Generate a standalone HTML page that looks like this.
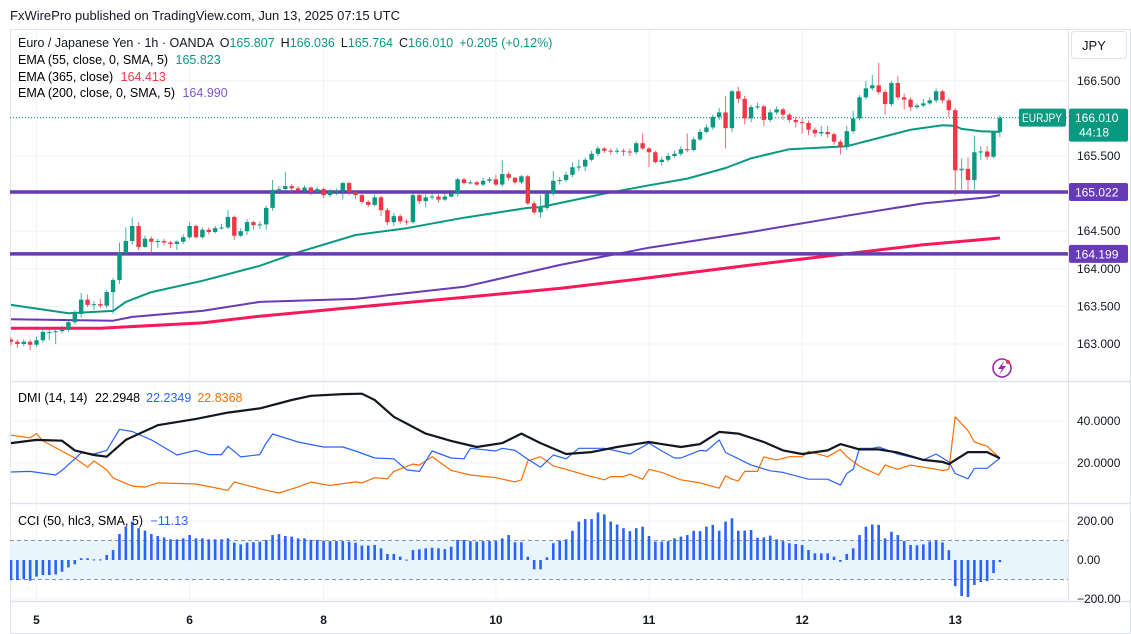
<!DOCTYPE html>
<html><head><meta charset="utf-8">
<style>
html,body{margin:0;padding:0;background:#fff;}
body{width:1131px;height:634px;overflow:hidden;position:relative;font-family:"Liberation Sans",sans-serif;color:#131722;}
svg{position:absolute;left:0;top:0;}
</style></head>
<body>
<svg id="chart" width="1131" height="634" viewBox="0 0 1131 634" xmlns="http://www.w3.org/2000/svg" font-family="Liberation Sans, sans-serif">
  <text x="10" y="20" font-size="13" fill="#131722">FxWirePro published on TradingView.com, Jun 13, 2025 07:15 UTC</text>
  <rect x="10.5" y="29.5" width="1120" height="604" fill="none" stroke="#e0e3eb"/>
  <g id="grid"></g>
  <g id="clipdefs"></g>
  <g id="main"></g>
  <g id="dmi"></g>
  <g id="cci"></g>
  <g id="axes"></g>
  <g font-size="12.5">
    <text x="18" y="47" fill="#131722">Euro / Japanese Yen · 1h · OANDA <tspan dx="3">O</tspan><tspan fill="#089981">165.807</tspan><tspan dx="6">H</tspan><tspan fill="#089981">166.036</tspan><tspan dx="6">L</tspan><tspan fill="#089981">165.764</tspan><tspan dx="6">C</tspan><tspan fill="#089981">166.010</tspan><tspan dx="6" fill="#089981">+0.205 (+0.12%)</tspan></text>
    <text x="18" y="64">EMA (55, close, 0, SMA, 5) <tspan dx="4" fill="#089981">165.823</tspan></text>
    <text x="18" y="81">EMA (365, close) <tspan dx="4" fill="#f23645">164.413</tspan></text>
    <text x="18" y="97">EMA (200, close, 0, SMA, 5) <tspan dx="4" fill="#7e57c2">164.990</tspan></text>
    <text x="18" y="402">DMI (14, 14) <tspan dx="4">22.2948</tspan><tspan dx="6" fill="#2962ff">22.2349</tspan><tspan dx="6" fill="#ff6d00">22.8368</tspan></text>
    <text x="18" y="525">CCI (50, hlc3, SMA, 5) <tspan dx="4" fill="#2962ff">−11.13</tspan></text>
  </g>
  <g>
    <rect x="1071.5" y="31.5" width="55" height="27" rx="3" fill="#fff" stroke="#e0e3eb"/>
    <text x="1082" y="50" font-size="13" fill="#131722">JPY</text>
  </g>
  <g>
    <circle cx="1002" cy="368" r="9" fill="none" stroke="#9c27b0" stroke-width="1.6"/>
    <path d="M1004 361 L998 369 L1002 369 L999 375 L1006 366 L1002 366 Z" fill="#9c27b0"/>
    <circle cx="1008" cy="362" r="2" fill="#f23645"/>
  </g>
</svg>
<script>
// ---- data ----
const open0 = 163.06;
const closes = [163.03,163.00,163.03,162.99,163.05,163.16,163.16,163.17,163.19,163.29,
163.40,163.59,163.52,163.53,163.51,163.69,163.85,164.21,164.37,164.57,
164.29,164.40,164.36,164.37,164.35,164.33,164.36,164.42,164.57,164.42,
164.52,164.49,164.54,164.55,164.69,164.44,164.50,164.62,164.58,164.59,
164.81,165.05,165.06,165.10,165.07,165.04,165.08,165.02,165.06,164.98,
165.03,165.03,165.14,165.02,164.98,164.89,164.85,164.95,164.78,164.62,
164.70,164.63,164.62,164.98,164.90,164.95,164.96,164.92,164.96,165.00,
165.19,165.14,165.15,165.12,165.17,165.19,165.12,165.26,165.21,165.15,
165.23,164.87,164.75,164.81,165.00,165.17,165.18,165.25,165.35,165.36,
165.45,165.53,165.60,165.57,165.56,165.57,165.56,165.55,165.67,165.60,
165.55,165.42,165.45,165.50,165.53,165.59,165.58,165.72,165.82,165.88,
166.02,166.08,165.87,166.36,166.26,166.00,166.15,166.16,165.98,166.08,
166.12,166.05,165.98,165.95,165.94,165.85,165.80,165.82,165.79,165.69,
165.62,165.83,166.00,166.28,166.40,166.44,166.35,166.19,166.47,166.28,
166.25,166.15,166.17,166.20,166.24,166.36,166.24,166.11,165.31,165.33,
165.18,165.55,165.56,165.49,165.82,166.01];
const highs = [163.09,163.06,163.06,163.06,163.10,163.22,163.20,163.21,163.24,163.32,
163.45,163.68,163.66,163.57,163.60,163.72,163.88,164.35,164.55,164.68,
164.62,164.44,164.43,164.40,164.40,164.37,164.38,164.46,164.62,164.59,
164.55,164.55,164.57,164.60,164.78,164.71,164.54,164.66,164.64,164.63,
164.84,165.18,165.10,165.29,165.13,165.10,165.11,165.10,165.09,165.08,
165.06,165.07,165.16,165.16,165.04,165.00,164.91,164.99,164.97,164.81,
164.74,164.73,164.66,165.00,165.00,164.99,165.00,164.99,165.00,165.02,
165.21,165.21,165.18,165.17,165.21,165.22,165.25,165.45,165.29,165.22,
165.25,165.25,164.90,164.98,165.05,165.30,165.22,165.29,165.41,165.45,
165.48,165.57,165.63,165.62,165.60,165.61,165.60,165.60,165.70,165.80,
165.62,165.57,165.49,165.54,165.57,165.63,165.80,165.75,165.86,165.92,
166.05,166.14,166.30,166.38,166.42,166.30,166.18,166.21,166.18,166.12,
166.16,166.14,166.07,166.02,166.00,165.97,165.88,165.90,165.90,165.81,
165.72,165.90,166.10,166.31,166.50,166.58,166.74,166.38,166.50,166.56,
166.33,166.28,166.20,166.26,166.28,166.40,166.38,166.27,166.14,165.47,
165.48,165.77,165.63,165.63,165.84,166.04];
const lows = [162.98,162.95,162.97,162.92,162.96,163.02,163.05,163.00,163.14,163.16,
163.26,163.35,163.49,163.45,163.48,163.48,163.40,163.80,164.18,164.32,
164.25,164.28,164.20,164.28,164.31,164.28,164.25,164.33,164.40,164.40,
164.40,164.46,164.47,164.52,164.53,164.38,164.42,164.45,164.52,164.53,
164.52,164.77,165.02,165.04,165.00,165.00,165.02,164.98,164.99,164.94,
164.95,164.98,164.92,164.98,164.93,164.86,164.82,164.83,164.70,164.58,
164.57,164.60,164.58,164.60,164.86,164.82,164.92,164.88,164.90,164.95,
164.96,165.12,165.12,165.10,165.10,165.14,165.10,165.09,165.17,165.12,
165.13,164.85,164.72,164.68,164.78,164.97,165.12,165.15,165.22,165.30,
165.30,165.43,165.50,165.54,165.52,165.53,165.50,165.50,165.52,165.58,
165.35,165.40,165.37,165.42,165.48,165.50,165.55,165.56,165.70,165.80,
165.85,165.98,165.60,165.82,166.20,165.92,165.95,166.12,165.90,165.95,
166.05,165.98,165.94,165.88,165.80,165.78,165.75,165.76,165.74,165.65,
165.52,165.58,165.80,165.97,166.25,166.37,166.32,166.05,166.16,166.25,
166.12,166.10,166.12,166.15,166.18,166.21,166.20,166.02,164.98,165.05,
165.05,165.05,165.45,165.45,165.47,165.75];
const ema55Idx = [0,9,16,18,22,30,39,45,54,62,71,81,83,93,100,106,112,116,122,131,136,141,146,148,149,152,155];
const ema55Val = [163.52,163.41,163.44,163.56,163.69,163.84,164.04,164.22,164.45,164.54,164.68,164.81,164.82,165.00,165.11,165.20,165.34,165.47,165.59,165.63,165.74,165.85,165.91,165.90,165.86,165.83,165.82];
const ema200Idx = [0,16,19,30,39,54,71,86,100,116,132,143,153,155];
const ema200Val = [163.33,163.31,163.36,163.44,163.56,163.60,163.76,164.05,164.28,164.49,164.72,164.87,164.95,164.98];
const ema365Idx = [0,14,30,39,54,71,86,100,116,132,143,155];
const ema365Val = [163.21,163.21,163.28,163.37,163.49,163.62,163.74,163.88,164.05,164.21,164.32,164.41];
const levels = [165.022,164.199];
const lastPrice = 166.010;
const priceTicks = [166.5,165.5,164.5,164.0,163.5,163.0];
const priceTickLabels = ["166.500","165.500","164.500","164.000","163.500","163.000"];
const adxIdx = [0,4,8,10,13,15,18,23,29,34,39,44,47,52,55,57,60,65,69,73,77,80,83,87,91,95,100,102,105,108,111,114,118,121,124,128,130,133,136,139,143,146,147,150,153,155];
const adxVal = [29.5,31,30.6,26,23.8,23,31,38,41,44,46,50,52,52.8,53,50,42,34,30.5,27.6,29.5,34,29.5,24.3,25.2,27.6,30,29,27.6,29,34.8,34,30,26,24.3,26,29,26.5,26.5,25,21.5,20.5,19.5,25.2,25.2,22.3];
const pdiIdx = [0,3,7,8,11,13,15,17,19,22,26,29,31,33,34,36,39,40,41,45,49,52,54,57,60,62,64,66,69,71,72,76,77,79,81,83,85,87,89,93,95,97,100,102,104,105,108,109,111,112,116,119,121,125,128,130,131,132,133,135,136,139,143,145,147,148,150,151,153,155];
const pdiVal = [15.7,16,14.3,16.5,24.8,24.3,26,36,35,31,23.8,26,24,24,28,22.9,24,29.5,33.8,30,27.6,27.6,25.7,22.4,22,16.7,16,25.7,22.4,22,27,25.7,27,26,21.8,18,23.8,22,27,27,25.7,24.3,29.5,25.7,22.4,22.4,26,25.7,31,25,19,16.3,15.5,12.3,12.3,9.5,15,17,27,27,27.6,24.3,21.5,24.3,20.5,15,12.5,17.5,17.5,22.3];
const mdiIdx = [0,3,4,5,10,12,13,15,16,19,21,23,29,34,35,40,42,45,47,50,54,55,57,59,60,63,64,66,69,72,76,79,80,81,83,85,87,90,92,93,94,96,97,99,100,102,105,108,111,112,113,114,115,117,118,120,122,124,125,128,130,131,133,134,136,137,139,141,143,146,147,148,150,151,153,155];
const mdiVal = [33.3,32,34,30.5,22.4,18,21,16.7,12.9,9,8.5,10.5,10,7,11,7,5.7,8.6,10.9,9.3,11,10.5,13,12.5,16,19.5,19,23,16.5,14.3,13,11,12,21,23,18.6,17,14.3,12.8,12,13.5,13.5,14.7,12.3,17,15.5,12,10.5,8,14,12.3,11.5,16,16,22.9,21.5,23,23,25.5,23,26.5,23,18.5,17,14.3,19,17,19,18,16.5,17,42,35.4,30,28,22.3];
const cciVals = [-103,-103,-99,-106,-85,-77,-77,-74,-60,-38,
-22,9,9,3,3,26,51,133,171,197,
163,151,133,123,116,106,106,111,128,111,
111,106,106,106,111,89,80,89,91,94,
103,128,133,123,120,111,111,103,103,99,
97,97,97,94,89,74,74,77,60,31,
31,17,2,51,55,60,63,60,56,68,
103,103,97,94,97,97,97,111,128,91,
91,17,-48,-48,14,86,99,106,150,197,
210,210,244,234,197,182,163,148,163,171,
123,94,94,97,111,120,128,150,148,171,
180,150,197,214,150,151,154,114,116,125,
106,97,86,82,77,51,34,34,34,17,
-9,31,60,128,171,182,180,111,145,128,
97,77,75,80,95,100,90,50,-134,-185,
-190,-128,-113,-108,-67,-11];
const dmiTicks = [40,20];
const dmiTickLabels = ["40.0000","20.0000"];
const cciTicks = [200,0,-200];
const cciTickLabels = ["200.00","0.00","−200.00"];
const dateLabels = ["5","6","8","10","11","12","13"];
const dateIdx = [4,28,49,76,100,124,148];

// ---- scales ----
const NS = "http://www.w3.org/2000/svg";
const PX0 = 11, STEP = 6.38, PR = 1068;
function xOf(i){ return PX0 + i*STEP; }
function yP(p){ return 156 - (p-165.5)*75.2; }
function yD(v){ return 463 - (v-20)*2.1; }
function yC(v){ return 560 - v*0.195; }
function mk(tag, attrs, parent){
  const e = document.createElementNS(NS, tag);
  for (const k in attrs) e.setAttribute(k, attrs[k]);
  parent.appendChild(e); return e;
}
const main = document.getElementById('main');
const dmi = document.getElementById('dmi');
const cci = document.getElementById('cci');
const axes = document.getElementById('axes');
const grid = document.getElementById('grid');

const defs = mk('defs', {}, document.getElementById('clipdefs'));
function clip(id,y0,y1){ const c = mk('clipPath',{id:id},defs); mk('rect',{x:10,y:y0,width:PR-10,height:y1-y0},c); }
clip('cMain',30,381); clip('cDmi',382,503); clip('cCci',504,601);
main.setAttribute('clip-path','url(#cMain)');
dmi.setAttribute('clip-path','url(#cDmi)');
cci.setAttribute('clip-path','url(#cCci)');

dateIdx.forEach(i=>{
  const l = mk('line',{x1:xOf(i),x2:xOf(i),y1:30,y2:601,stroke:'#f0f3fa','stroke-width':1},grid);
  
  
});
[166.5,166.0,165.5,165.0,164.5,164.0,163.5,163.0].forEach(p=>{
  const l = mk('line',{x1:10,x2:PR,y1:yP(p),y2:yP(p),stroke:'#f0f3fa'},grid);
  
  
});
[40,20].forEach(v=>{ const l=mk('line',{x1:10,x2:PR,y1:yD(v),y2:yD(v),stroke:'#f0f3fa'},grid);
  
   });
[200,-200].forEach(v=>{ const l=mk('line',{x1:10,x2:PR,y1:yC(v),y2:yC(v),stroke:'#f0f3fa'},grid);
  
   });

[381.5,503.5,601.5].forEach(y=>{ const l=mk('line',{x1:10,x2:1131,y1:y,y2:y,stroke:'#e0e3eb','stroke-width':1.5},axes);
  
   });
const ab = mk('line',{x1:PR+0.5,x2:PR+0.5,y1:30,y2:601,stroke:'#e0e3eb'},axes);



function polyline(idx, vals, yf, color, w, parent, name){
  const pts = idx.map((i,k)=> xOf(i).toFixed(1)+','+yf(vals[k]).toFixed(1)).join(' ');
  const pl = mk('polyline',{points:pts,fill:'none',stroke:color,'stroke-width':w,'stroke-linejoin':'round'},parent);
  
  
}
polyline(ema365Idx, ema365Val, yP, '#f7195a', 3, main, 'ema365-line');
polyline(ema200Idx, ema200Val, yP, '#673ab7', 2, main, 'ema200-line');
polyline(ema55Idx, ema55Val, yP, '#089981', 2, main, 'ema55-line');

levels.forEach(p=>{
  const l = mk('line',{x1:10,x2:PR,y1:yP(p),y2:yP(p),stroke:'#673ab7','stroke-width':3.5},main);
  
  
});
const cl = mk('line',{x1:10,x2:PR,y1:yP(lastPrice),y2:yP(lastPrice),stroke:'#089981','stroke-width':1,'stroke-dasharray':'1 2'},main);



closes.forEach((c,i)=>{
  const o = i===0 ? open0 : closes[i-1];
  const up = c >= o;
  const col = up ? '#089981' : '#f23645';
  const x = xOf(i);
  const g = mk('g',{},main);
  
  
  mk('line',{x1:x,x2:x,y1:yP(highs[i]),y2:yP(lows[i]),stroke:col,'stroke-width':1,opacity:0.75},g);
  const top = yP(Math.max(o,c)), bot = yP(Math.min(o,c));
  mk('rect',{x:x-2.2,y:top,width:4.4,height:Math.max(1,bot-top),fill:col},g);
});

polyline(mdiIdx, mdiVal, yD, '#ff6d00', 1.2, dmi, 'minus-di-line');
polyline(pdiIdx, pdiVal, yD, '#2962ff', 1.2, dmi, 'plus-di-line');
polyline(adxIdx, adxVal, yD, '#131722', 2.2, dmi, 'adx-line');

const band = mk('rect',{x:10,y:yC(100),width:PR-10,height:yC(-100)-yC(100),fill:'#e3f2fd',opacity:0.8},cci);


[100,-100].forEach(v=>{ const l=mk('line',{x1:10,x2:PR,y1:yC(v),y2:yC(v),stroke:'#9598a1','stroke-dasharray':'4 3'},cci);
  
   });
cciVals.forEach((v,i)=>{
  const y0 = yC(0), y1 = yC(v);
  const r = mk('rect',{x:xOf(i)-1.3,y:Math.min(y0,y1),width:2.6,height:Math.max(1,Math.abs(y1-y0)),fill:'#2962ff'},cci);
  
  
});

function txt(x,y,s,attrs,parent,name){
  const t = mk('text',Object.assign({x:x,y:y,'font-size':12,fill:'#131722'},attrs),parent);
  t.textContent = s;
  
  
  return t;
}
priceTicks.forEach((p,k)=> txt(1077, yP(p)+4, priceTickLabels[k], {}, axes, 'price-tick-label'));
dmiTicks.forEach((v,k)=> txt(1077, yD(v)+4, dmiTickLabels[k], {}, axes, 'dmi-tick-label'));
cciTicks.forEach((v,k)=> txt(1077, yC(v)+4, cciTickLabels[k], {}, axes, 'cci-tick-label'));
dateLabels.forEach((s,k)=> txt(xOf(dateIdx[k]), 624, s, {'text-anchor':'middle','font-weight':'bold','font-size':12}, axes, 'date-label'));

levels.forEach(p=>{
  const y = yP(p);
  const g = mk('g',{},axes);
  
  
  mk('rect',{x:PR+1,y:y-9,width:59,height:18,rx:2,fill:'#673ab7'},g);
  const t = mk('text',{x:1075,y:y+4.5,'font-size':12,fill:'#fff'},g); t.textContent = p.toFixed(3);
});
(function(){
  const y = yP(lastPrice);
  const g = mk('g',{},axes);
  
  
  mk('rect',{x:PR+1,y:y-9,width:59,height:33,rx:2,fill:'#089981'},g);
  const t1 = mk('text',{x:1075,y:y+4.5,'font-size':12,fill:'#fff'},g); t1.textContent = lastPrice.toFixed(3);
  const t2 = mk('text',{x:1079,y:y+19,'font-size':12,fill:'#fff'},g); t2.textContent = '44:18';
  const g2 = mk('g',{},axes);
  
  
  mk('rect',{x:1019,y:y-9,width:47,height:18,rx:2,fill:'#089981'},g2);
  const t3 = mk('text',{x:1022,y:y+4.5,'font-size':11.5,fill:'#fff',textLength:40,lengthAdjust:'spacingAndGlyphs'},g2); t3.textContent = 'EURJPY';
})();
</script>
</body></html>
